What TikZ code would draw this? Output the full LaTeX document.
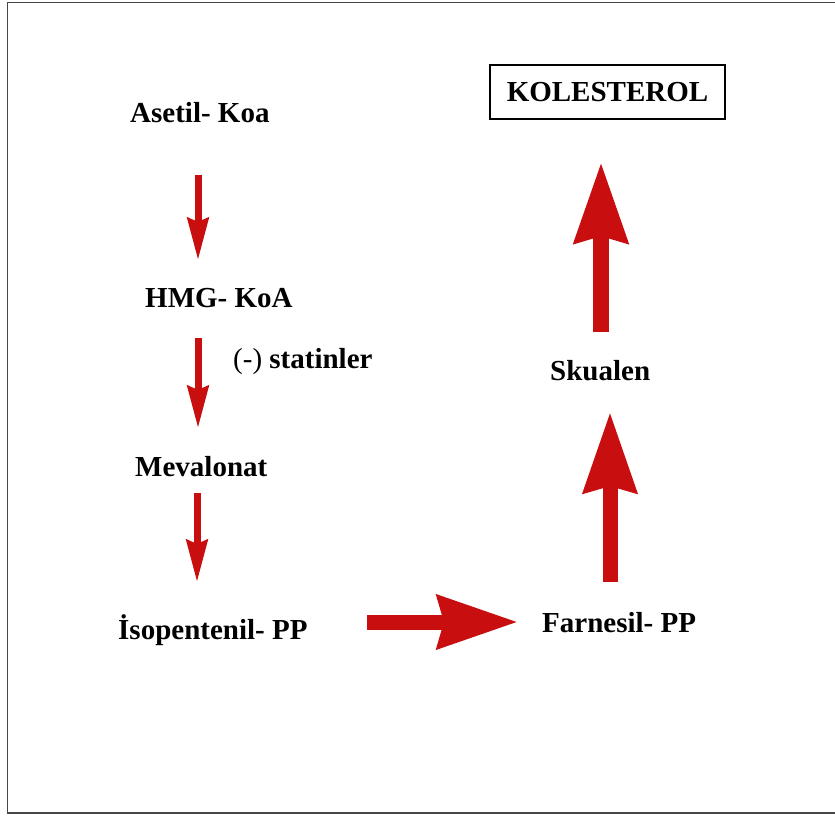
\documentclass[tikz,border=0pt]{standalone}
\usepackage{fontspec}
\setmainfont{Liberation Serif}
\usetikzlibrary{arrows.meta}
\definecolor{arrowred}{RGB}{200,14,14}
\definecolor{framegray}{RGB}{70,70,70}
\tikzset{
  lbl/.style={anchor=base west, inner sep=0pt, font=\fontsize{29}{33}\selectfont\bfseries},
  thinarrow/.style={draw=arrowred, line width=7pt,
    -{Stealth[length=42pt, width=21pt, inset=4pt, fill=arrowred]}},
  bigarrow/.style={draw=arrowred, line width=15pt,
    -{Stealth[length=80pt, width=52pt, inset=6pt, fill=arrowred]}},
}
\begin{document}
\begin{tikzpicture}[x=1pt, y=-1pt]
\useasboundingbox (0,0) rectangle (835,817);
\draw[framegray, line width=1.6pt] (7.5,2.5) rectangle (845,813);

\node[lbl] (asetil) at (130,122) {Asetil- Koa};
\node[lbl] (hmg) at (145,307) {HMG- KoA};
\node[lbl] (statin) at (233,368) {\mdseries(-) \bfseries statinler};
\node[lbl] (meval) at (135,476) {Mevalonat};
\node[lbl] (isop) at (118,639) {İsopentenil- PP};
\node[lbl] (farn) at (542,632) {Farnesil- PP};
\node[lbl] (skual) at (550,380) {Skualen};
\node[draw=black, line width=1.4pt, minimum width=235pt, minimum height=54pt,
      inner sep=0pt, font=\fontsize{29}{33}\selectfont\bfseries] (kol) at (607.5,92) {KOLESTEROL};

\coordinate (a1s) at (198,175);
\coordinate (a1e) at (198,260);
\coordinate (a2s) at (198,338);
\coordinate (a2e) at (198,428);
\coordinate (a3s) at (197,493);
\coordinate (a3e) at (197,582);
\coordinate (hs) at (367,622);
\coordinate (he) at (518,622);
\coordinate (u1s) at (610,582);
\coordinate (u1e) at (610,412);
\coordinate (u2s) at (601,332);
\coordinate (u2e) at (601,162);

\draw[thinarrow] (a1s) -- (a1e);
\draw[thinarrow] (a2s) -- (a2e);
\draw[thinarrow] (a3s) -- (a3e);
\draw[bigarrow] (hs) -- (he);
\draw[bigarrow, line width=15pt] (u1s) -- (u1e);
\draw[bigarrow, line width=16pt] (u2s) -- (u2e);
\end{tikzpicture}
\end{document}
